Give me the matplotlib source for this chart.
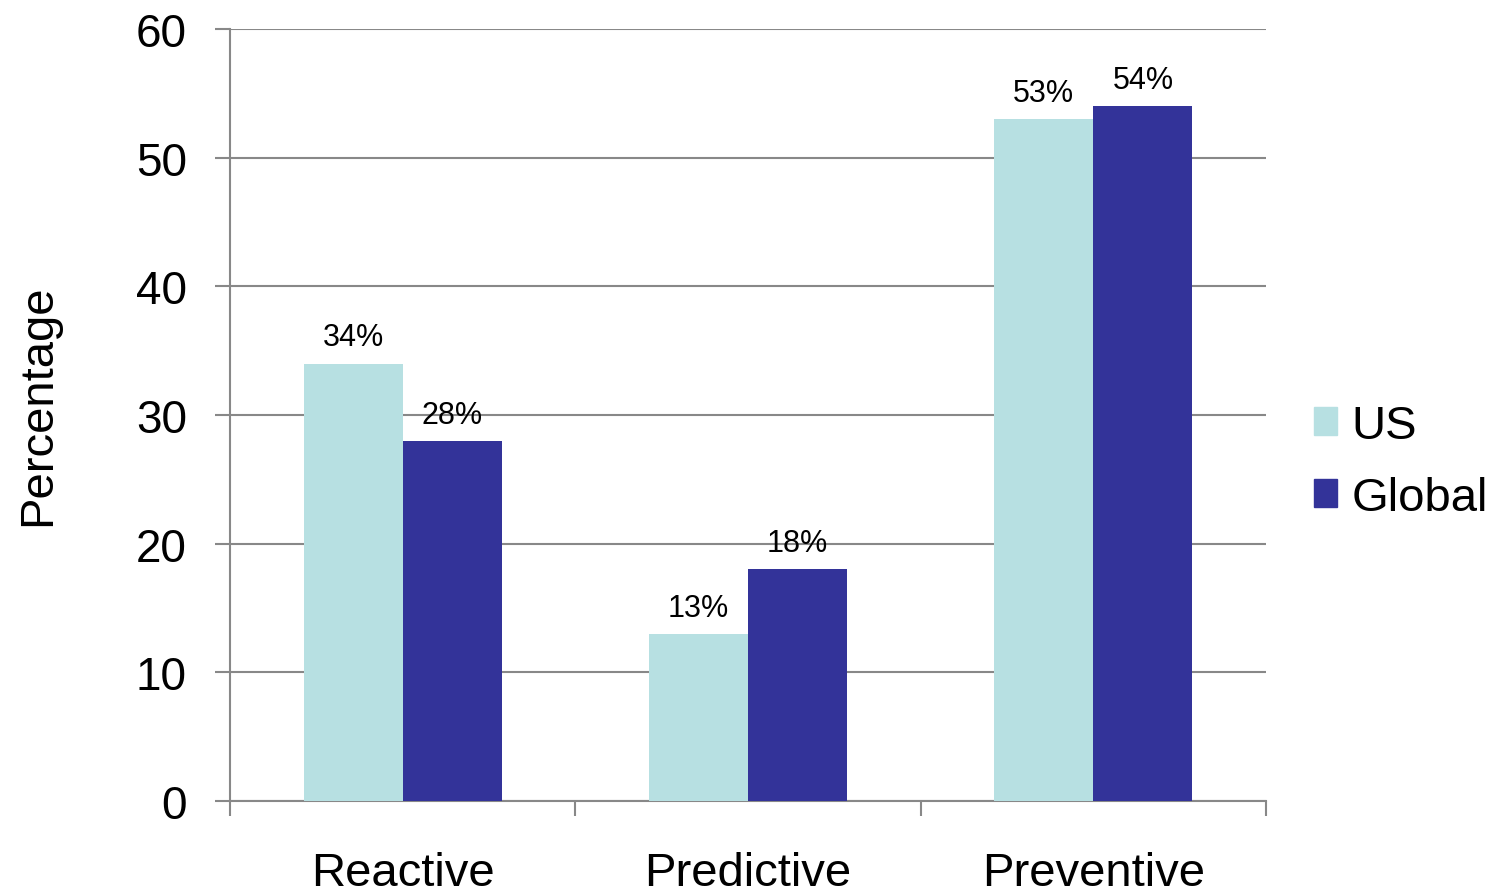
import matplotlib.pyplot as plt
import matplotlib.patches as mpatches
import numpy as np

plt.rcParams['font.family'] = ['Liberation Sans', 'DejaVu Sans']

categories = ["Reactive", "Predictive", "Preventive"]
us = [34, 13, 53]
global_vals = [28, 18, 54]
series_names = ["US", "Global"]
colors = ["#B7E0E2", "#333399"]

fig = plt.figure(figsize=(14.99, 8.95), dpi=100)
ax = fig.add_axes([0.1534, 0.1039, 0.6912, 0.8626])

x = np.arange(len(categories))
w = 0.287
b1 = ax.bar(x - w / 2, us, w, color=colors[0], zorder=3)
b2 = ax.bar(x + w / 2, global_vals, w, color=colors[1], zorder=3)

# value labels over the bars
for bars, vals in ((b1, us), (b2, global_vals)):
    for r, v in zip(bars, vals):
        ax.annotate(f"{v}%", (r.get_x() + r.get_width() / 2, v),
                    textcoords="offset points", xytext=(0, 8),
                    ha='center', va='bottom', fontsize=22)

ax.set_xlim(-0.5, 2.5)
ax.set_ylim(0, 60)
ax.set_yticks(range(0, 61, 10))
ax.yaxis.grid(True, color="#888888", linewidth=1.5, zorder=0)
ax.tick_params(axis='y', labelsize=33, length=11, width=1.5, color="#888888", pad=20)

ax.set_xticks(x)
ax.set_xticklabels(categories, fontsize=34)
ax.set_xticks([-0.5, 0.5, 1.5, 2.5], minor=True)
ax.tick_params(axis='x', which='major', length=0, pad=36)
ax.tick_params(axis='x', which='minor', length=11, width=1.5, color="#888888")

for s in ("top", "right"):
    ax.spines[s].set_visible(False)
for s in ("left", "bottom"):
    ax.spines[s].set_color("#888888")
    ax.spines[s].set_linewidth(1.5)

ax.set_ylabel("Percentage", fontsize=34)
ax.yaxis.set_label_coords(-0.164, 0.514)

handles = [mpatches.Patch(color=c) for c in colors]
ax.legend(handles, series_names, loc='center left', bbox_to_anchor=(1.046, 0.4395),
          frameon=False, fontsize=34, handlelength=0.5, handleheight=0.55,
          handletextpad=0.3, labelspacing=0.6, borderpad=0, borderaxespad=0)

fig.savefig("out.png", dpi=100)
